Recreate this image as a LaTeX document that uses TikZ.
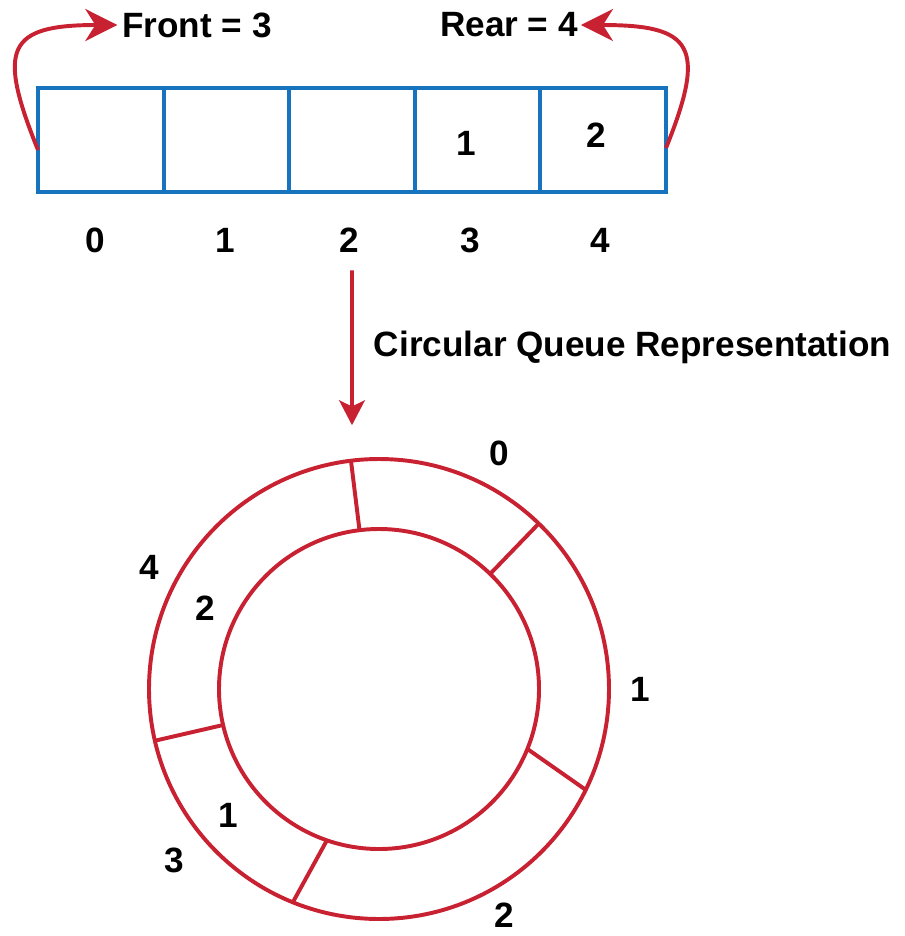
\documentclass[tikz,border=0pt]{standalone}
\usepackage{fontspec}
\setmainfont{Liberation Sans}
\usetikzlibrary{arrows.meta,positioning}

\definecolor{cellblue}{RGB}{24,115,190}
\definecolor{ringred}{RGB}{200,34,50}

\begin{document}
\begin{tikzpicture}[
            every node/.style={font=\fontsize{25}{30}\selectfont\bfseries, text=black},
            cell/.style={draw=cellblue, line width=2.8pt, minimum width=3.14cm, minimum height=2.6cm, inner sep=0pt, outer sep=0pt},
            idx/.style={inner sep=0pt},
            ptr/.style={ringred, line width=2.8pt, -{Stealth[length=0.8cm,width=0.8cm,inset=0.25cm]}},
            down/.style={ringred, line width=2.8pt, -{Stealth[length=0.62cm,width=0.64cm,inset=0.15cm]}},
            ring/.style={circle, draw=ringred, line width=2.8pt, inner sep=0pt, outer sep=0pt},
            slot/.style={ringred, line width=2.8pt}]
            \useasboundingbox (0,0) rectangle (22.625,-23.4);
            \node[cell] (c0) at (2.52,-3.5) {};
            \node[cell] (c1) [right=0pt of c0] {};
            \node[cell] (c2) [right=0pt of c1] {};
            \node[cell] (c3) [right=0pt of c2] {};
            \node[cell] (c4) [right=0pt of c3] {};
            \node (v3) at ([shift={(-0.29,-0.075)}]c3.center) {1};
            \node (v4) at ([shift={(-0.18,0.125)}]c4.center) {2};
            \node[idx] (i0) [below=0.9cm of c0, xshift=-0.14cm] {0};
            \node[idx] (i1) [below=0.9cm of c1, xshift=-0.04cm] {1};
            \node[idx] (i2) [below=0.9cm of c2, xshift=-0.06cm] {2};
            \node[idx] (i3) [below=0.9cm of c3, xshift=-0.18cm] {3};
            \node[idx] (i4) [below=0.9cm of c4, xshift=-0.08cm] {4};
            \node (front) at (4.925,-0.625) {Front = 3};
            \node[inner xsep=2pt] (rear) at (12.725,-0.625) {Rear = 4};
            \draw[ptr] ([yshift=-0.25cm]c0.west) to[out=112, in=180, looseness=1.9] (front.west);
            \draw[ptr] ([yshift=-0.2cm]c4.east) to[out=68, in=0, looseness=1.9] (rear.east);
            \coordinate (qtop) at (8.8,-10.63);
            \draw[down] ([yshift=-0.43cm]c2.south |- i2.south) -- (qtop)
                node[midway, right=0.38cm] (cap) {Circular Queue Representation};
            \coordinate (ctr) at (9.475,-17.225);
            \node[ring, minimum size=11.5cm] (outer) at (ctr) {};
            \node[ring, minimum size=8cm] (inner) at (ctr) {};
            \draw[slot] (inner.97.5) -- (outer.97.5);
            \draw[slot] (inner.46)   -- (outer.46);
            \draw[slot] (inner.338)  -- (outer.334);
            \draw[slot] (inner.251)  -- (outer.248);
            \draw[slot] (inner.193)  -- (outer.193);
            \node[idx] (p0) at ([shift={(63:6.62)}]ctr) {0};
            \node[idx] (p1) at ([shift={(0:6.52)}]ctr) {1};
            \node[idx] (p2) at ([shift={(299:6.47)}]ctr) {2};
            \node[idx] (p3) at ([shift={(220:6.67)}]ctr) {3};
            \node[idx] (p4) at ([shift={(152:6.5)}]ctr) {4};
            \node[idx] (q4) at ([shift={(155:4.8)}]ctr) {2};
            \node[idx] (q3) at ([shift={(220:4.92)}]ctr) {1};
        \end{tikzpicture}
\end{document}
